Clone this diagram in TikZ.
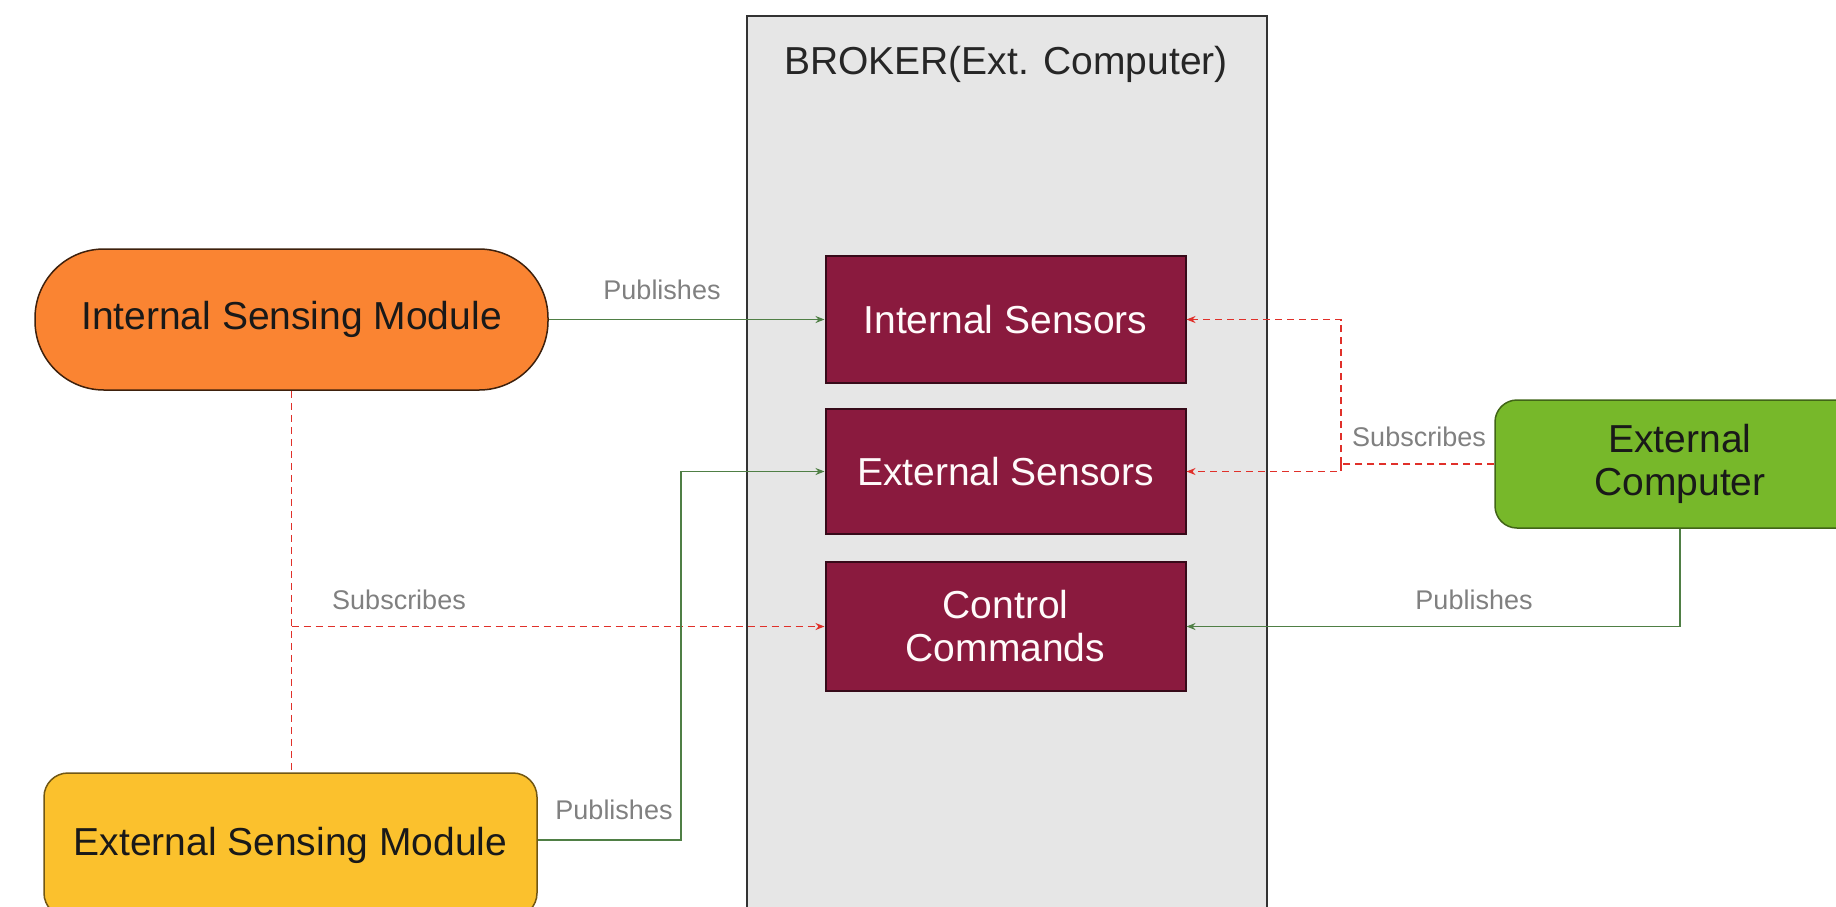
\documentclass[tikz,border=0pt]{standalone}
\usepackage{fontspec}
\setmainfont{Liberation Sans}
\usetikzlibrary{arrows.meta}
\definecolor{maroonc}{HTML}{8A1A3E}
\definecolor{orangec}{HTML}{FA8432}
\definecolor{yellowc}{HTML}{FBC12D}
\definecolor{greenc}{HTML}{77B82A}
\definecolor{brokerc}{HTML}{E6E6E6}
\definecolor{pubc}{HTML}{4F7F45}
\definecolor{subc}{HTML}{E0302A}
\definecolor{labc}{HTML}{808080}
\tikzset{
  x=1pt, y=-1pt,
  bigtext/.style={font=\fontsize{39}{43}\selectfont, align=center},
  modbox/.style={draw=black!75!orangec, line width=1.5pt, bigtext, text=black!90},
  topicbox/.style={draw=black!60!maroonc, fill=maroonc, line width=2pt, bigtext, text=white!92!pink,
    minimum width=360pt, inner sep=0pt},
  pubarrow/.style={draw=pubc, line width=1.8pt, -{Stealth[length=9pt,width=7pt]}},
  publine/.style={draw=pubc, line width=1.8pt},
  subarrow/.style={draw=subc, line width=1.8pt, dash pattern=on 7pt off 5pt, -{Stealth[length=9pt,width=7pt]}},
  subline/.style={draw=subc, line width=1.8pt, dash pattern=on 7pt off 5pt},
  lab/.style={font=\fontsize{27}{30}\selectfont, text=labc, fill=white, inner sep=1pt}
}
\begin{document}
\begin{tikzpicture}
\useasboundingbox (0,0) rectangle (1836,906);
\begin{scope}
\clip (0,0) rectangle (1836,906);
% broker
\node[draw=black!80, fill=brokerc, line width=2pt, minimum width=520pt, minimum height=930pt,
  anchor=north west, inner sep=0pt] (broker) at (746,15) {};
\node[bigtext, text=black!85] (brokertitle) at (1006,64) {BROKER(Ext. Computer)};
% topics
\node[topicbox, minimum height=127pt] (intsens) at (1005.5,319.5) {Internal Sensors};
\node[topicbox, minimum height=125pt] (extsens) at (1005.5,471.5) {External Sensors};
\node[topicbox, minimum height=129pt] (ctrl) at (1005.5,626.5) {Control\\Commands};
% modules
\node[modbox, fill=orangec, minimum width=513pt, minimum height=141pt, rounded corners=69pt, inner sep=0pt]
  (ism) at (291.5,319.5) {Internal Sensing Module};
\node[modbox, fill=yellowc, draw=black!55!yellowc, minimum width=493pt, minimum height=144pt, rounded corners=24pt, inner sep=0pt]
  (esm) at (290.5,845) {External Sensing Module};
\node[modbox, fill=greenc, draw=black!45!greenc, minimum width=370pt, minimum height=128pt, rounded corners=22pt, inner sep=0pt]
  (extcomp) at (1680,464) {External\\Computer};
% connectors
\draw[pubarrow] (ism.east) -- (intsens.west);
\node[lab] (l1) at (662,290) {Publishes};

\draw[subline] (ism.south) -- (ism.south |- esm.north);
\coordinate (j1) at (ism.south |- ctrl.west);
\draw[subarrow] (j1) -- (ctrl.west);
\node[lab] (l2) at (399,600) {Subscribes};

\coordinate (j2) at (681,840);
\draw[pubarrow] (esm.east |- j2) -- (j2) |- (extsens.west);
\node[lab] (l3) at (614,810) {Publishes};

\coordinate (j3) at (1341,464);
\draw[subline] (extcomp.west) -- (j3);
\draw[subarrow] (j3) |- (intsens.east);
\draw[subarrow] (j3) |- (extsens.east);
\node[lab] (l4) at (1419,437) {Subscribes};

\draw[pubarrow] (extcomp.south) |- (ctrl.east);
\node[lab] (l5) at (1474,600) {Publishes};
\end{scope}
\end{tikzpicture}
\end{document}
